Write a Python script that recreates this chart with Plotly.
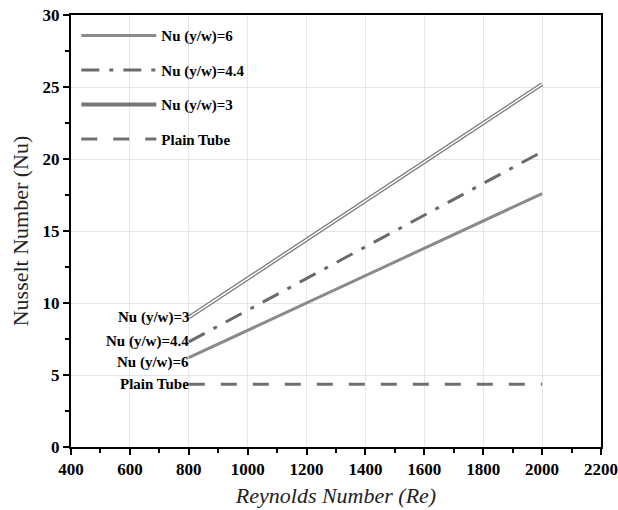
import plotly.graph_objects as go

re_vals = [800, 1000, 1200, 1400, 1600, 1800, 2000]
nu_yw6 = [6.2, 8.1, 10.0, 11.9, 13.8, 15.7, 17.6]
nu_yw44 = [7.3, 9.5, 11.7, 13.9, 16.1, 18.3, 20.5]
nu_yw3 = [9.0, 11.7, 14.4, 17.1, 19.8, 22.5, 25.2]
plain_tube = [4.35, 4.35, 4.35, 4.35, 4.35, 4.35, 4.35]

names = ["Nu (y/w)=6", "Nu (y/w)=4.4", "Nu (y/w)=3", "Plain Tube"]
x_ticks = [400, 600, 800, 1000, 1200, 1400, 1600, 1800, 2000, 2200]
y_ticks = [0, 5, 10, 15, 20, 25, 30]

FONT = "Times New Roman, Liberation Serif, DejaVu Serif, serif"
B = lambda s: "<b>" + str(s) + "</b>"
fig = go.Figure()

fig.add_trace(go.Scatter(x=re_vals, y=nu_yw6, mode="lines", name=B(names[0]),
                         legendgroup="a", line=dict(color="#8a8a8a", width=3)))
fig.add_trace(go.Scatter(x=re_vals, y=nu_yw44, mode="lines", name=B(names[1]),
                         legendgroup="b",
                         line=dict(color="#6a6a6a", width=3, dash="18px,10px,4px,10px")))
fig.add_trace(go.Scatter(x=re_vals, y=nu_yw3, mode="lines", name=B(names[2]),
                         legendgroup="c", line=dict(color="#777777", width=4)))
fig.add_trace(go.Scatter(x=re_vals, y=nu_yw3, mode="lines", showlegend=False,
                         legendgroup="c", hoverinfo="skip",
                         line=dict(color="white", width=1.5)))
fig.add_trace(go.Scatter(x=re_vals, y=plain_tube, mode="lines", name=B(names[3]),
                         legendgroup="d",
                         line=dict(color="#707070", width=3, dash="16px,16px")))

# left-side labels
label_vals = [nu_yw3[0], nu_yw44[0], nu_yw6[0] - 0.3, plain_tube[0]]
label_names = [names[2], names[1], names[0], names[3]]
for v, t in zip(label_vals, label_names):
    fig.add_annotation(x=re_vals[0], y=v, text=B(t), showarrow=False,
                       xanchor="right", xshift=2,
                       font=dict(family=FONT, size=15, color="black"))

axis_common = dict(showline=True, linecolor="black", linewidth=2, mirror=True,
                   ticks="outside", ticklen=6, tickwidth=1.5, tickcolor="black",
                   showgrid=True, gridcolor="#e6e6e6", gridwidth=1, zeroline=False,
                   automargin=False,
                   tickfont=dict(family=FONT, size=17, color="black"))

fig.update_xaxes(range=[400, 2200], tickvals=x_ticks, ticktext=[B(v) for v in x_ticks],
                 minor=dict(ticks="outside", ticklen=4, tickcolor="black", dtick=100,
                            showgrid=False),
                 title=dict(text="Reynolds Number (Re)", standoff=9,
                            font=dict(family=FONT, size=22, color="#222", style="italic")),
                 **axis_common)
fig.update_yaxes(range=[0, 30], tickvals=y_ticks, ticktext=[B(v) for v in y_ticks],
                 minor=dict(ticks="outside", ticklen=4, tickcolor="black", dtick=2.5,
                            showgrid=False),
                 title=dict(text="Nusselt Number (Nu)", standoff=8,
                            font=dict(family=FONT, size=22, color="#222")),
                 **axis_common)

fig.update_layout(
    width=618, height=510,
    margin=dict(l=71, r=17, t=15, b=63),
    plot_bgcolor="white", paper_bgcolor="white",
    showlegend=True,
    legend=dict(x=0.01, y=0.99, xanchor="left", yanchor="top",
                bgcolor="rgba(255,255,255,0)", traceorder="grouped",
                tracegroupgap=12, itemwidth=75,
                font=dict(family=FONT, size=15, color="black")),
)

fig.write_html("out.html")
